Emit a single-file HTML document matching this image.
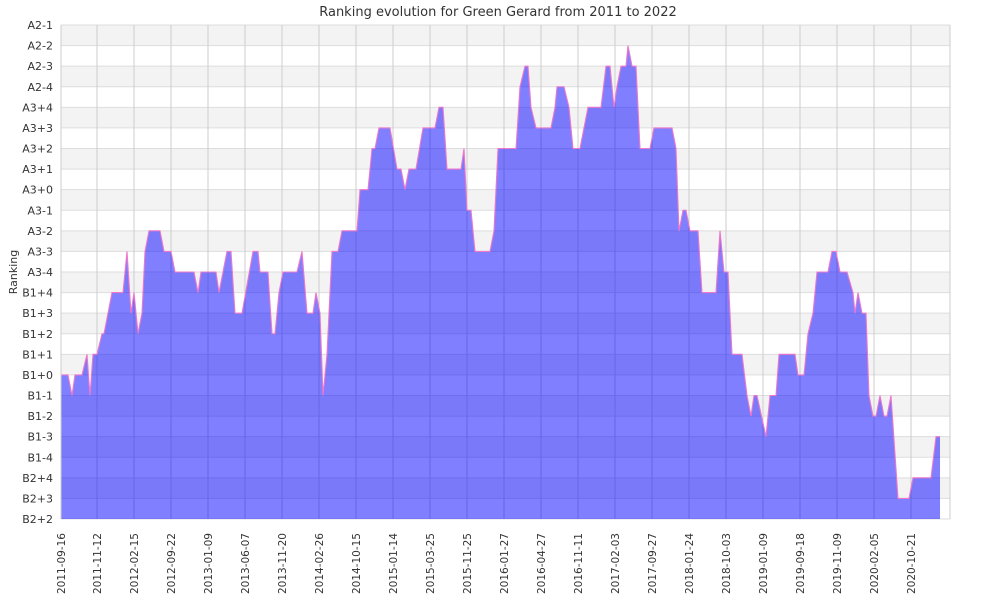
<!DOCTYPE html>
<html><head><meta charset="utf-8"><style>
body{margin:0;background:#fff;width:1000px;height:600px;overflow:hidden}
svg text{font-family:"DejaVu Sans","Liberation Sans",sans-serif;fill:#333}
</style></head><body>
<svg id="chart" width="1000" height="600" xmlns="http://www.w3.org/2000/svg">
<text x="498" y="16" text-anchor="middle" font-size="13">Ranking evolution for Green Gerard from 2011 to 2022</text>
<text transform="translate(17,272) rotate(-90)" text-anchor="middle" font-size="11">Ranking</text>
<g id="bands"></g><g id="grid"></g><g id="series"></g><g id="axes"></g>
</svg>
<script>
const levelLabels = ["B2+2","B2+3","B2+4","B1-4","B1-3","B1-2","B1-1","B1+0","B1+1","B1+2","B1+3","B1+4","A3-4","A3-3","A3-2","A3-1","A3+0","A3+1","A3+2","A3+3","A3+4","A2-4","A2-3","A2-2","A2-1"];
const tickLabels = ["2011-09-16","2011-11-12","2012-02-15","2012-09-22","2013-01-09","2013-06-07","2013-11-20","2014-02-26","2014-10-15","2015-01-14","2015-03-25","2015-11-25","2016-01-27","2016-04-27","2016-11-11","2017-02-03","2017-09-27","2018-01-24","2018-10-03","2019-01-09","2019-09-18","2019-11-09","2020-02-05","2020-10-21"];
const timeValues = [0,7,11,14,21,26,29,32,36,41,43,51,62,66,70,73,77,81,84,88,99,103,110,114,133,137,140,155,158,166,170,174,181,192,197,199,207,211,214,218,222,236,241,246,252,255,259,262,266,271,277,281,296,299,307,311,314,318,329,336,340,344,348,355,362,374,378,382,386,400,403,406,410,414,429,433,437,455,459,464,467,470,475,490,494,496,503,508,512,519,523,527,540,545,549,553,556,560,565,567,571,575,579,589,593,611,615,618,622,625,629,637,641,655,659,663,667,671,681,686,690,693,696,705,709,715,718,734,737,743,747,752,756,767,771,775,779,786,792,794,797,801,805,808,812,815,819,823,826,830,837,848,852,870,875,879];
const rankLevels = [7,7,6,7,7,8,6,8,8,9,9,11,11,13,10,11,9,10,13,14,14,13,13,12,12,11,12,12,11,13,13,10,10,13,13,12,12,9,9,11,12,12,13,10,10,11,10,6,8,13,13,14,14,16,16,18,18,19,19,17,17,16,17,17,19,19,20,20,17,17,18,15,15,13,13,14,18,18,21,22,22,20,19,19,20,21,21,20,18,18,19,20,20,22,22,20,21,22,22,23,22,22,18,18,19,19,18,14,15,15,14,14,11,11,14,12,12,8,8,6,5,6,6,4,6,6,8,8,7,7,9,10,12,12,13,13,12,12,11,10,11,10,10,6,5,5,6,5,5,6,1,1,2,2,4,4];
const tickTimes = [0,36,73,110,147,184,221,258,295,332,369,406,443,480,517,554,591,628,665,702,739,776,813,850];

const NS="http://www.w3.org/2000/svg";
const L=61,R=950,T=25,B=519,TMAX=889;
const xs=t=>L+t*(R-L)/TMAX;
const ys=v=>B-v*(B-T)/(levelLabels.length-1);
function mk(tag,attrs,parent){const e=document.createElementNS(NS,tag);for(const k in attrs)e.setAttribute(k,attrs[k]);parent.appendChild(e);return e;}
const bands=document.getElementById('bands'),grid=document.getElementById('grid'),series=document.getElementById('series'),axes=document.getElementById('axes');
for(let i=0;i<levelLabels.length-1;i++){
  const r=mk('rect',{x:L,y:ys(i+1),width:R-L,height:ys(i)-ys(i+1),fill:(i%2===1)?'#f3f3f3':'#ffffff'},bands);
  
  
}
levelLabels.forEach((lab,i)=>{
  const ln=mk('line',{x1:L,x2:R,y1:ys(i),y2:ys(i),stroke:'#dddddd','stroke-width':1},grid);
  
  
  const tx=mk('text',{x:L-8,y:ys(i)+4,'text-anchor':'end','font-size':11},axes);
  tx.textContent=lab;
  
  
});
tickTimes.forEach((t,i)=>{
  const x=xs(t);
  const ln=mk('line',{x1:x,x2:x,y1:T,y2:B,stroke:'#cccccc','stroke-width':1},grid);
  
  
  const tx=mk('text',{transform:`translate(${x+4},533) rotate(-90)`,'text-anchor':'end','font-size':10.5},axes);
  tx.textContent=tickLabels[i];
  
  
});
const rl=mk('line',{x1:R,x2:R,y1:T,y2:B,stroke:'#cccccc'},grid);


const n=Math.min(timeValues.length,rankLevels.length);
let d='M'+xs(timeValues[0])+','+B;
let ld='';
for(let i=0;i<n;i++){const t=timeValues[i];d+=' L'+xs(t)+','+ys(rankLevels[i]);ld+=(i?' L':'M')+xs(t)+','+ys(rankLevels[i]);}
d+=' L'+xs(timeValues[n-1])+','+B+' Z';
const area=mk('path',{d:d,fill:'rgba(0,0,255,0.5)'},series);


const line=mk('path',{d:ld,fill:'none',stroke:'#ee77cc','stroke-width':1.1},series);


const ax=mk('line',{x1:L,x2:L,y1:T,y2:B,stroke:'#cccccc'},axes);


</script>
</body></html>
